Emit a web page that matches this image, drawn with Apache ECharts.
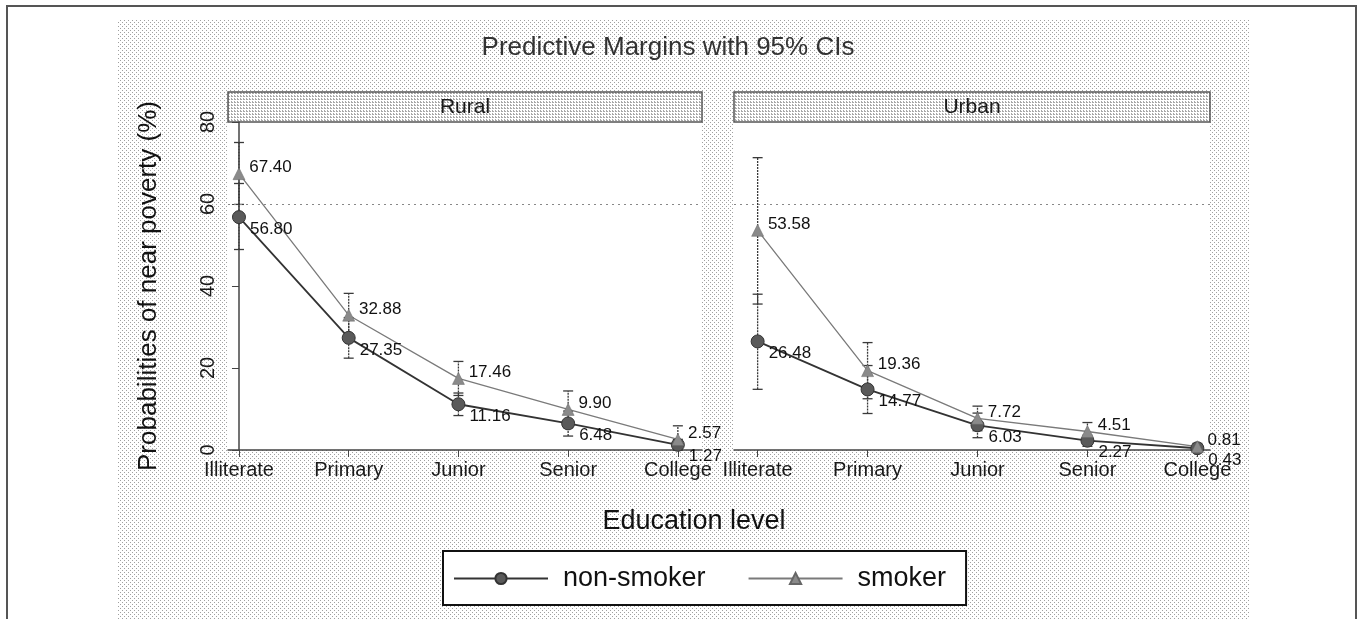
<!DOCTYPE html>
<html>
<head>
<meta charset="utf-8">
<script src="https://cdn.jsdelivr.net/npm/echarts@6/dist/echarts.min.js"></script>
<style>
html,body{margin:0;padding:0;background:#fff;}
#c{width:1360px;height:619px;}
</style>
</head>
<body>
<div id="c"></div>
<script>
// ---- data ----
const categories = ['Illiterate', 'Primary', 'Junior', 'Senior', 'College'];
const yTicks = [0, 20, 40, 60, 80];

const ruralNon   = [56.80, 27.35, 11.16, 6.48, 1.27];
const ruralNonLo = [48.9, 22.4, 8.4, 3.4, 0.0];
const ruralNonHi = [65.0, 32.3, 13.9, 9.5, 2.6];
const ruralSmk   = [67.40, 32.88, 17.46, 9.90, 2.57];
const ruralSmkLo = [59.9, 27.6, 13.3, 5.4, 0.0];
const ruralSmkHi = [75.0, 38.2, 21.6, 14.4, 5.9];

const urbanNon   = [26.48, 14.77, 6.03, 2.27, 0.43];
const urbanNonLo = [14.8, 8.9, 3.0, 0.9, 0.0];
const urbanNonHi = [38.0, 20.6, 9.0, 3.6, 0.9];
const urbanSmk   = [53.58, 19.36, 7.72, 4.51, 0.81];
const urbanSmkLo = [35.6, 12.5, 4.7, 2.3, 0.0];
const urbanSmkHi = [71.3, 26.2, 10.7, 6.7, 1.6];

const panelNames = ['Rural', 'Urban'];

// ---- patterns ----
function makeTile(size, dots, color) {
  const c = document.createElement('canvas');
  c.width = size; c.height = size;
  const g = c.getContext('2d');
  g.fillStyle = '#ffffff'; g.fillRect(0, 0, size, size);
  g.fillStyle = color;
  dots.forEach(d => g.fillRect(d[0], d[1], 1, 1));
  return c;
}
const bgTile = makeTile(4, [[0, 0], [2, 2]], '#a0a0a0');
const hdrTile = makeTile(3, [[0, 0], [1, 0], [0, 2]], '#a8a8a8');

const FONT = 'Liberation Sans, Arial, sans-serif';

const pts = arr => arr.map((v, i) => [i, v]);
const bars = (lo, hi) => lo.map((v, i) => [i, v, hi[i]]);

function errRender(params, api) {
  const x = api.value(0);
  const p1 = api.coord([x, api.value(1)]);
  const p2 = api.coord([x, api.value(2)]);
  const w = 5;
  const st = { stroke: '#3a3a3a', lineWidth: 1.3, lineDash: [2, 1] };
  const st2 = { stroke: '#3a3a3a', lineWidth: 1.3 };
  return {
    type: 'group',
    children: [
      { type: 'line', shape: { x1: p1[0], y1: p1[1], x2: p2[0], y2: p2[1] }, style: st },
      { type: 'line', shape: { x1: p1[0] - w, y1: p1[1], x2: p1[0] + w, y2: p1[1] }, style: st2 },
      { type: 'line', shape: { x1: p2[0] - w, y1: p2[1], x2: p2[0] + w, y2: p2[1] }, style: st2 }
    ]
  };
}

const grids = [
  { left: 228, top: 122, width: 474, height: 328 },
  { left: 734, top: 122, width: 476, height: 328 }
];
const xRanges = [[-0.1, 4.22], [-0.215, 4.115]];

function makeX(i) {
  return {
    type: 'value', gridIndex: i, min: xRanges[i][0], max: xRanges[i][1],
    axisLine: { show: true, lineStyle: { color: '#444', width: 1.5 } },
    axisTick: { show: true, length: 7, customValues: [0, 1, 2, 3, 4], lineStyle: { color: '#444' } },
    axisLabel: {
      customValues: [0, 1, 2, 3, 4], formatter: v => categories[Math.round(v)],
      fontSize: 20, color: '#1a1a1a', fontFamily: FONT, margin: 10
    },
    splitLine: { show: false }
  };
}
function makeY(i) {
  return {
    type: 'value', gridIndex: i, min: 0, max: 80, interval: 20,
    show: i === 0,
    name: i === 0 ? 'Probabilities of near poverty (%)' : '',
    nameLocation: 'middle', nameGap: 66,
    nameTextStyle: { fontSize: 26, color: '#111', fontFamily: FONT },
    axisLine: { show: true, lineStyle: { color: '#444', width: 1.5 } },
    axisTick: { show: true, length: 7, lineStyle: { color: '#444' } },
    axisLabel: { rotate: 90, fontSize: 20, color: '#1a1a1a', fontFamily: FONT, margin: 10,
      formatter: v => String(v) },
    splitLine: { show: false }
  };
}

function lineSeries(name, data, gi, isSmoker) {
  return {
    name: name, type: 'line', xAxisIndex: gi, yAxisIndex: gi,
    data: pts(data), z: 5,
    symbol: isSmoker ? 'triangle' : 'circle',
    symbolSize: isSmoker ? 12 : 13,
    lineStyle: isSmoker ? { color: '#7a7a7a', width: 1.3 } : { color: '#333', width: 1.8 },
    itemStyle: isSmoker ? { color: '#8a8a8a', borderColor: '#666', borderWidth: 0.5 }
                        : { color: '#5a5a5a', borderColor: '#333', borderWidth: 1 },
    label: {
      show: true, position: 'right', distance: 4,
      offset: isSmoker ? [0, -6] : [0, 12],
      formatter: p => p.value[1].toFixed(2),
      fontSize: 17, color: '#111', fontFamily: FONT
    },
    emphasis: { disabled: true },
    animation: false
  };
}
function errSeries(lo, hi, gi) {
  return {
    type: 'custom', xAxisIndex: gi, yAxisIndex: gi, z: 3,
    data: bars(lo, hi), renderItem: errRender, silent: true, animation: false,
    clip: false
  };
}
function refLine(gi) {
  return {
    type: 'line', xAxisIndex: gi, yAxisIndex: gi, data: [], silent: true,
    markLine: {
      silent: true, symbol: ['none', 'none'], label: { show: false },
      lineStyle: { color: '#888', type: [2, 4], width: 1 },
      data: [{ yAxis: 60 }], animation: false
    }
  };
}

const series = [
  refLine(0), refLine(1),
  errSeries(ruralNonLo, ruralNonHi, 0),
  errSeries(ruralSmkLo, ruralSmkHi, 0),
  errSeries(urbanNonLo, urbanNonHi, 1),
  errSeries(urbanSmkLo, urbanSmkHi, 1),
  lineSeries('non-smoker', ruralNon, 0, false),
  lineSeries('smoker', ruralSmk, 0, true),
  lineSeries('non-smoker', urbanNon, 1, false),
  lineSeries('smoker', urbanSmk, 1, true)
];

const headerEls = grids.map((g, i) => ({
  type: 'group', z: 1,
  children: [
    { type: 'rect', shape: { x: g.left, y: 92, width: g.width, height: 30 },
      style: { fill: { image: hdrTile, repeat: 'repeat' }, stroke: '#555', lineWidth: 1.5 } },
    { type: 'text', x: g.left + g.width / 2, y: 107,
      style: { text: panelNames[i], fontSize: 21, fill: '#1a1a1a', fontFamily: FONT,
        align: 'center', verticalAlign: 'middle' } }
  ]
}));

const chart = echarts.init(document.getElementById('c'), null, { renderer: 'canvas' });
chart.setOption({
  animation: false,
  backgroundColor: { image: bgTile, repeat: 'repeat' },
  grid: grids.map(g => Object.assign({ show: true, backgroundColor: '#fff', borderWidth: 0 }, g)),
  xAxis: [makeX(0), makeX(1)],
  yAxis: [makeY(0), makeY(1)],
  legend: {
    data: ['non-smoker', 'smoker'], left: 443, top: 551, orient: 'horizontal',
    padding: [14, 20, 13, 10], itemWidth: 94, itemHeight: 14, itemGap: 42,
    backgroundColor: '#fff', borderColor: '#111', borderWidth: 2, borderRadius: 0,
    textStyle: { fontSize: 27, color: '#111', fontFamily: FONT, padding: [0, 0, 0, 10] },
    selectedMode: false
  },
  graphic: [
    { type: 'rect', z: 0, shape: { x: 0, y: 0, width: 118, height: 619 }, style: { fill: '#fff' } },
    { type: 'rect', z: 0, shape: { x: 1250, y: 0, width: 110, height: 619 }, style: { fill: '#fff' } },
    { type: 'rect', z: 0, shape: { x: 0, y: 0, width: 1360, height: 20 }, style: { fill: '#fff' } },
    { type: 'polyline', z: 1, shape: { points: [[7, 619], [7, 6], [1356, 6], [1356, 619]] },
      style: { stroke: '#555', lineWidth: 2, fill: null } },
    { type: 'text', z: 1, x: 668, y: 48,
      style: { text: 'Predictive Margins with 95% CIs', fontSize: 26, fill: '#333', fontFamily: FONT,
        align: 'center', verticalAlign: 'middle' } },
    { type: 'text', z: 1, x: 694, y: 522,
      style: { text: 'Education level', fontSize: 27, fill: '#111', fontFamily: FONT,
        align: 'center', verticalAlign: 'middle' } }
  ].concat(headerEls),
  series: series
});
</script>
</body>
</html>
